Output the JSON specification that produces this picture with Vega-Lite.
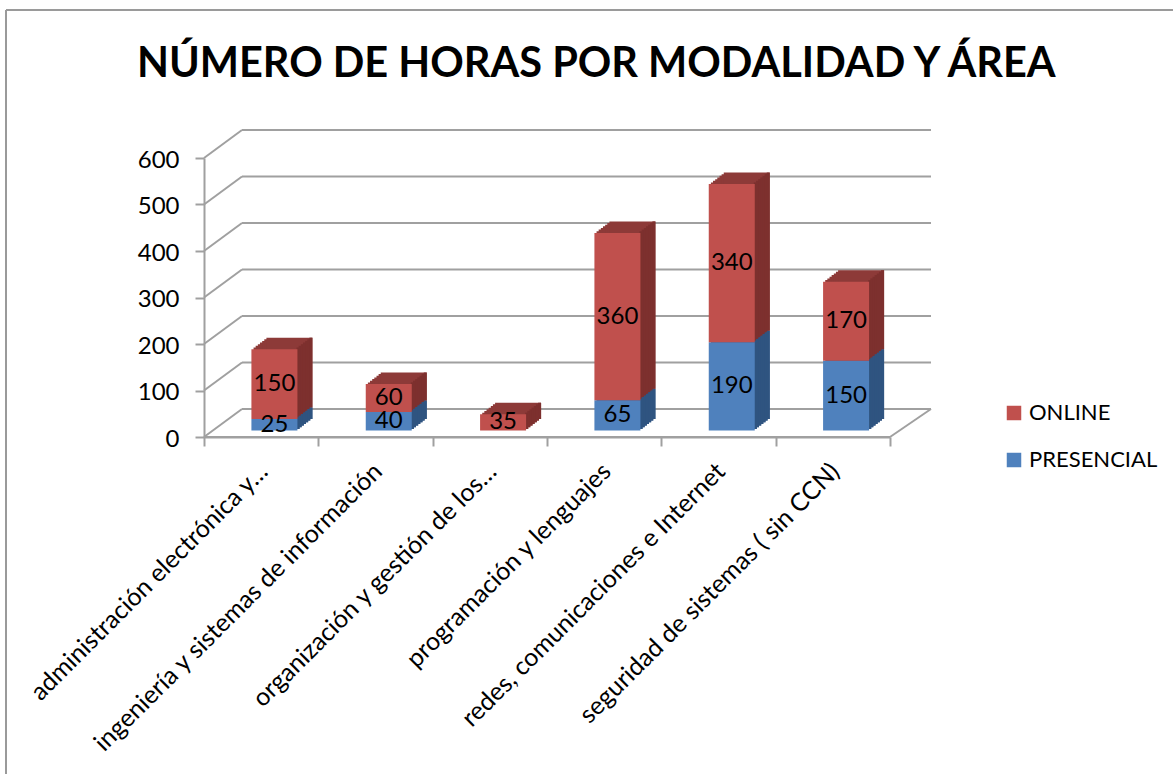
{"$schema":"https://vega.github.io/schema/vega-lite/v6.json","autosize":"none","padding":{"left":204,"top":158,"right":283,"bottom":337},"width":686,"height":279,"background":"white","config":{"view":{"stroke":null},"font":"Lato","axisY":{"labelFontSize":24,"labelColor":"black","labelPadding":16,"labelOffset":2,"tickColor":"#a0a0a0","tickWidth":2,"tickSize":9,"domainColor":"#a0a0a0","domainWidth":2,"grid":false,"labelFont":"Lato"}},"title":{"text":"NÚMERO DE HORAS POR MODALIDAD Y ÁREA","font":"Lato","fontSize":41.5,"fontWeight":"bold","color":"black","anchor":"start","frame":"group","dx":-67,"offset":-76},"datasets":{"horas":[{"area":"administración electrónica y…","serie":"PRESENCIAL","valor":25},{"area":"administración electrónica y…","serie":"ONLINE","valor":150},{"area":"ingeniería y sistemas de información","serie":"PRESENCIAL","valor":40},{"area":"ingeniería y sistemas de información","serie":"ONLINE","valor":60},{"area":"organización y gestión de los…","serie":"ONLINE","valor":35},{"area":"programación y lenguajes","serie":"PRESENCIAL","valor":65},{"area":"programación y lenguajes","serie":"ONLINE","valor":360},{"area":"redes, comunicaciones e Internet","serie":"PRESENCIAL","valor":190},{"area":"redes, comunicaciones e Internet","serie":"ONLINE","valor":340},{"area":"seguridad de sistemas ( sin CCN)","serie":"PRESENCIAL","valor":150},{"area":"seguridad de sistemas ( sin CCN)","serie":"ONLINE","valor":170}],"niveles":[{"v":0},{"v":100},{"v":200},{"v":300},{"v":400},{"v":500},{"v":600}],"suelo":[{"v":0}],"marco":[{"v":600}]},"layer":[{"data":{"name":"marco"},"mark":{"type":"rule","color":"#9a9a9a","strokeWidth":2},"encoding":{"x":{"value":-198},"x2":{"value":969},"y":{"value":-148}}},{"data":{"name":"marco"},"mark":{"type":"rule","color":"#9a9a9a","strokeWidth":2},"encoding":{"x":{"value":-198},"y":{"value":-148},"y2":{"value":616}}},{"data":{"name":"niveles"},"mark":{"type":"rule","color":"#a0a0a0","strokeWidth":2,"yOffset":-28},"encoding":{"x":{"value":38},"x2":{"value":727},"y":{"field":"v","type":"quantitative","title":null,"scale":{"domain":[0,600]},"axis":{"values":[0,100,200,300,400,500,600]}}}},{"data":{"name":"niveles"},"mark":{"type":"rule","color":"#a0a0a0","strokeWidth":2,"y2Offset":-28},"encoding":{"x":{"value":0},"x2":{"value":38},"y":{"field":"v","type":"quantitative","title":null,"axis":{"values":[0,100,200,300,400,500,600]}},"y2":{"field":"v"}}},{"data":{"name":"suelo"},"mark":{"type":"rule","color":"#a0a0a0","strokeWidth":2,"y2Offset":-28},"encoding":{"x":{"value":686},"x2":{"value":727},"y":{"field":"v","type":"quantitative","title":null,"axis":{"values":[0,100,200,300,400,500,600]}},"y2":{"field":"v"}}},{"data":{"name":"suelo"},"mark":{"type":"rule","color":"#a0a0a0","strokeWidth":2},"encoding":{"x":{"value":0},"x2":{"value":686},"y":{"field":"v","type":"quantitative","title":null,"axis":{"values":[0,100,200,300,400,500,600]}}}},{"data":{"name":"horas"},"encoding":{"x":{"field":"area","type":"nominal","sort":null,"title":null,"scale":{"paddingInner":0,"paddingOuter":0},"axis":{"labelAngle":-45,"labelAlign":"right","labelBaseline":"middle","labelFontSize":25,"labelColor":"black","labelLimit":600,"labelOffset":2,"labelPadding":21,"tickBand":"extent","tickColor":"#a0a0a0","tickWidth":2,"tickSize":9,"domainColor":"#a0a0a0","domainWidth":2,"labelFont":"Lato"}},"y":{"field":"valor","type":"quantitative","stack":"zero","title":null,"scale":{"domain":[0,600]},"axis":{"values":[0,100,200,300,400,500,600]}},"order":{"field":"serie","sort":"descending"}},"layer":[{"mark":{"type":"bar","size":46,"xOffset":15.4,"yOffset":-8.1},"encoding":{"color":{"condition":{"test":"datum.serie==='ONLINE'","value":"#8d3a38"},"value":"#34598a"}}},{"mark":{"type":"bar","size":46,"xOffset":17.5,"yOffset":-9.8},"encoding":{"color":{"condition":{"test":"datum.serie==='ONLINE'","value":"#8d3a38"},"value":"#34598a"}}},{"mark":{"type":"bar","size":46,"xOffset":19.7,"yOffset":-11.4},"encoding":{"color":{"condition":{"test":"datum.serie==='ONLINE'","value":"#8d3a38"},"value":"#34598a"}}},{"mark":{"type":"bar","size":46,"xOffset":21.8,"yOffset":-13.1},"encoding":{"color":{"condition":{"test":"datum.serie==='ONLINE'","value":"#8d3a38"},"value":"#34598a"}}},{"mark":{"type":"bar","size":46,"xOffset":24,"yOffset":-14.7},"encoding":{"color":{"condition":{"test":"datum.serie==='ONLINE'","value":"#8d3a38"},"value":"#34598a"}}},{"mark":{"type":"bar","size":46,"xOffset":26.1,"yOffset":-16.4},"encoding":{"color":{"condition":{"test":"datum.serie==='ONLINE'","value":"#8d3a38"},"value":"#34598a"}}},{"mark":{"type":"bar","size":46,"xOffset":28.25,"yOffset":-18},"encoding":{"color":{"condition":{"test":"datum.serie==='ONLINE'","value":"#8d3a38"},"value":"#34598a"}}},{"mark":{"type":"bar","size":3,"xOffset":36.9,"yOffset":-8.1},"encoding":{"color":{"condition":{"test":"datum.serie==='ONLINE'","value":"#7d302e"},"value":"#2f5480"}}},{"mark":{"type":"bar","size":3,"xOffset":39,"yOffset":-9.8},"encoding":{"color":{"condition":{"test":"datum.serie==='ONLINE'","value":"#7d302e"},"value":"#2f5480"}}},{"mark":{"type":"bar","size":3,"xOffset":41.2,"yOffset":-11.4},"encoding":{"color":{"condition":{"test":"datum.serie==='ONLINE'","value":"#7d302e"},"value":"#2f5480"}}},{"mark":{"type":"bar","size":3,"xOffset":43.3,"yOffset":-13.1},"encoding":{"color":{"condition":{"test":"datum.serie==='ONLINE'","value":"#7d302e"},"value":"#2f5480"}}},{"mark":{"type":"bar","size":3,"xOffset":45.5,"yOffset":-14.7},"encoding":{"color":{"condition":{"test":"datum.serie==='ONLINE'","value":"#7d302e"},"value":"#2f5480"}}},{"mark":{"type":"bar","size":3,"xOffset":47.6,"yOffset":-16.4},"encoding":{"color":{"condition":{"test":"datum.serie==='ONLINE'","value":"#7d302e"},"value":"#2f5480"}}},{"mark":{"type":"bar","size":3,"xOffset":49.75,"yOffset":-18},"encoding":{"color":{"condition":{"test":"datum.serie==='ONLINE'","value":"#7d302e"},"value":"#2f5480"}}},{"mark":{"type":"bar","size":46,"xOffset":13.25,"yOffset":-6.5},"encoding":{"color":{"field":"serie","type":"nominal","scale":{"domain":["ONLINE","PRESENCIAL"],"range":["#c0504d","#4f81bd"]},"legend":{"title":null,"orient":"none","legendX":799,"legendY":244,"symbolType":"square","symbolSize":210,"symbolStrokeWidth":0,"labelFontSize":22,"labelColor":"black","labelFont":"Lato","labelOffset":4,"rowPadding":25}}}},{"mark":{"type":"text","fontSize":24,"color":"black","font":"Lato","xOffset":13.25,"yOffset":-6.5},"encoding":{"y":{"field":"valor","type":"quantitative","stack":"zero","bandPosition":0.5},"text":{"field":"valor","type":"quantitative"}}}]}]}
